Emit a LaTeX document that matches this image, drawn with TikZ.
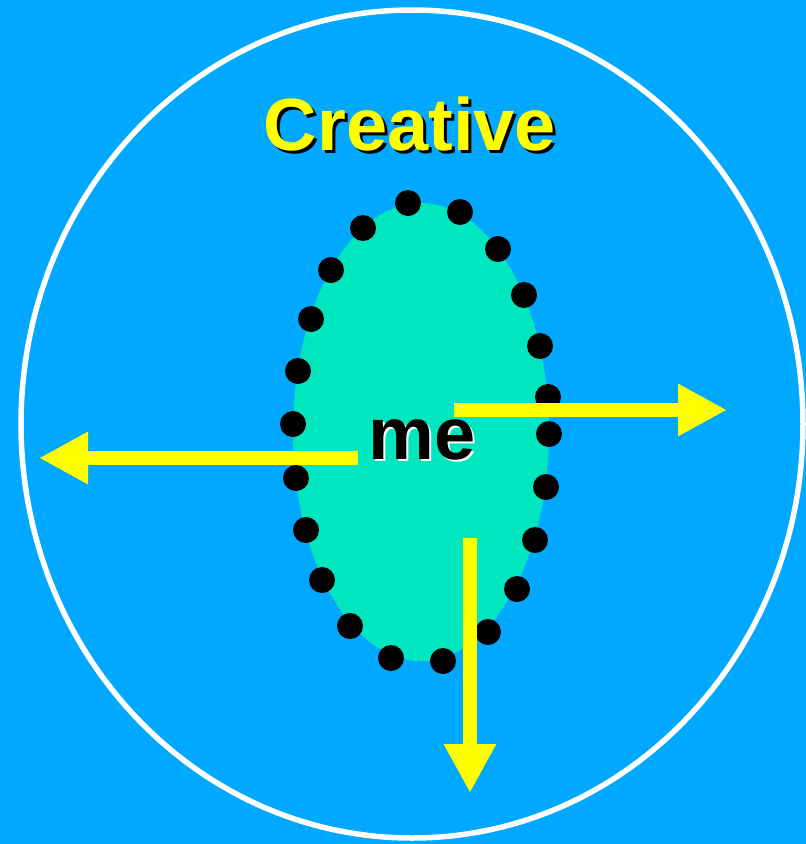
\documentclass[tikz,border=0pt]{standalone}
\usepackage{fontspec}
\setmainfont{Liberation Sans}
\usetikzlibrary{arrows.meta,shapes.geometric}
\definecolor{SlideBlue}{RGB}{0,168,255}
\definecolor{SlideTeal}{RGB}{0,230,190}
\definecolor{SlideYellow}{RGB}{255,255,0}

\begin{document}
\begin{tikzpicture}[x=1pt,y=-1pt,
  dot/.style={circle,fill=black,inner sep=0pt,minimum size=26pt},
  word/.style={font=\fontsize{74}{80}\selectfont\bfseries,anchor=base,inner sep=0pt},
  push/.style={SlideYellow,line width=14pt,-{Triangle[length=49pt,width=49pt]}}]
\fill[SlideBlue] (0,0) rectangle (806,844);
\useasboundingbox (0,0) rectangle (806,844);
\draw[white,line width=5.5pt] (412,424) ellipse (391pt and 414pt);
% the inner ellipse with its ring of dots
\node[ellipse,fill=SlideTeal,minimum width=256pt,minimum height=458pt,inner sep=0pt] (self) at (421,432) {};
\foreach \px/\py [count=\k] in {408/203,460/212,498/249,524/295,540/346,548/397,549/434,
    546/487,535/540,517/589,488/632,443/661,391/658,350/626,322/580,306/530,
    296/478,293/424,298/371,311/319,331/270,363/228}
  \node[dot] (d\k) at (\px,\py) {};
% labels with their shadows
\node[word,black] (titleshadow) at (413,153) {Creative};
\node[word,SlideYellow] (title) at (410,150) {Creative};
\node[word,white] (meshadow) at (424,461) {me};
\node[word,black] (me) at (422,459) {me};
% arrows out of the ellipse
\coordinate (eastfrom) at (454,410);
\coordinate (eastto) at (727,410);
\coordinate (westfrom) at (358,458);
\coordinate (westto) at (39,458);
\coordinate (southfrom) at (470,538);
\coordinate (southto) at (470,793);
\draw[push] (eastfrom) -- (eastto);
\draw[push] (westfrom) -- (westto);
\draw[push] (southfrom) -- (southto);
\end{tikzpicture}
\end{document}
